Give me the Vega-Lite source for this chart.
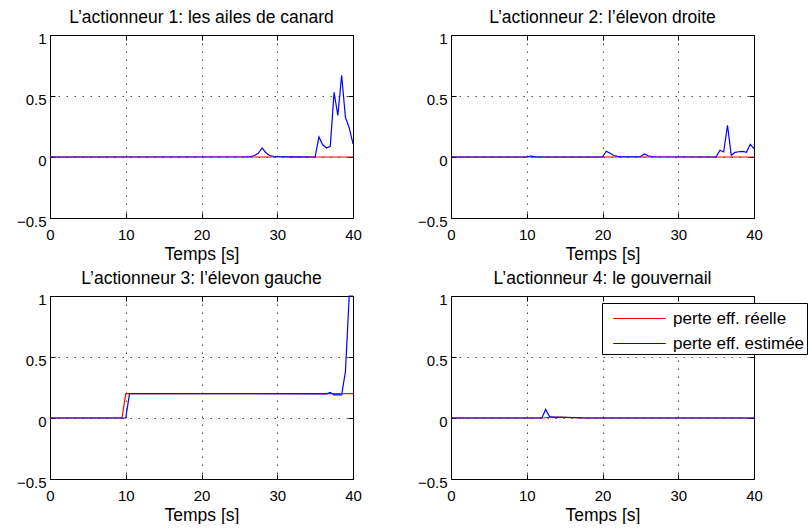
{
  "$schema": "https://vega.github.io/schema/vega-lite/v6.json",
  "background": "white",
  "padding": {"left": 15, "top": 8, "right": 0, "bottom": 0},
  "config": {
    "font": "Liberation Sans",
    "view": {"stroke": "#000", "strokeWidth": 1},
    "axis": {
      "domain": false,
      "grid": true,
      "gridColor": "#000",
      "gridDash": [1.5, 6.5],
      "gridOpacity": 0.7,
      "gridWidth": 1,
      "tickColor": "#000",
      "tickSize": -5,
      "labelFont": "Liberation Sans",
      "labelFontSize": 15,
      "labelColor": "#000",
      "titleFont": "Liberation Sans",
      "titleFontSize": 17.5,
      "titleFontWeight": "normal",
      "titleColor": "#000"
    },
    "axisX": {"labelPadding": 14, "titleY": 41, "titleBaseline": "alphabetic", "labelFlush": false},
    "axisY": {"labelPadding": 9, "labelOffset": 3},
    "title": {"font": "Liberation Sans", "fontSize": 17.5, "fontWeight": "normal", "color": "#000", "baseline": "alphabetic", "offset": 5, "anchor": "middle"}
  },
  "datasets": {
    "p1r": [{"t": 0, "v": 0}, {"t": 40, "v": 0}],
    "p1e": [
      {"t": 0, "v": 0}, {"t": 26, "v": 0.002}, {"t": 26.5, "v": 0.004}, {"t": 27, "v": 0.012}, {"t": 27.5, "v": 0.03},
      {"t": 28, "v": 0.074}, {"t": 28.5, "v": 0.035}, {"t": 29, "v": 0.012}, {"t": 29.5, "v": 0.006}, {"t": 30, "v": 0.004},
      {"t": 31, "v": 0.002}, {"t": 32, "v": 0.001}, {"t": 35, "v": 0}, {"t": 35.5, "v": 0.164}, {"t": 36, "v": 0.1},
      {"t": 36.5, "v": 0.074}, {"t": 37, "v": 0.088}, {"t": 37.5, "v": 0.53}, {"t": 38, "v": 0.34}, {"t": 38.5, "v": 0.67},
      {"t": 39, "v": 0.325}, {"t": 39.5, "v": 0.24}, {"t": 40, "v": 0.107}
    ],
    "p2r": [{"t": 0, "v": 0}, {"t": 40, "v": 0}],
    "p2e": [
      {"t": 0, "v": 0}, {"t": 10, "v": 0}, {"t": 10.5, "v": 0.008}, {"t": 11, "v": 0.003}, {"t": 11.5, "v": 0},
      {"t": 20, "v": 0}, {"t": 20.5, "v": 0.047}, {"t": 21, "v": 0.03}, {"t": 21.5, "v": 0.012}, {"t": 22, "v": 0.005},
      {"t": 22.5, "v": 0.002}, {"t": 25, "v": 0.002}, {"t": 25.5, "v": 0.025}, {"t": 26, "v": 0.01}, {"t": 26.5, "v": 0.004},
      {"t": 27, "v": 0.002}, {"t": 35, "v": 0}, {"t": 35.5, "v": 0.055}, {"t": 36, "v": 0.041}, {"t": 36.5, "v": 0.26},
      {"t": 37, "v": 0.014}, {"t": 37.5, "v": 0.038}, {"t": 38, "v": 0.043}, {"t": 38.5, "v": 0.046}, {"t": 39, "v": 0.038},
      {"t": 39.5, "v": 0.104}, {"t": 40, "v": 0.068}
    ],
    "p3r": [{"t": 0, "v": 0}, {"t": 9.5, "v": 0}, {"t": 10, "v": 0.2}, {"t": 40, "v": 0.2}],
    "p3e": [
      {"t": 0, "v": 0}, {"t": 10, "v": 0}, {"t": 10.5, "v": 0.2}, {"t": 36.5, "v": 0.198}, {"t": 37, "v": 0.21},
      {"t": 37.5, "v": 0.19}, {"t": 38.5, "v": 0.19}, {"t": 39, "v": 0.38}, {"t": 39.5, "v": 1.0}, {"t": 40, "v": 1.0}
    ],
    "p4r": [
      {"s": "perte eff. réelle", "t": 0, "v": 0}, {"s": "perte eff. réelle", "t": 12, "v": 0}, {"s": "perte eff. réelle", "t": 12.5, "v": 0.002},
      {"s": "perte eff. réelle", "t": 13, "v": 0.005}, {"s": "perte eff. réelle", "t": 14, "v": 0.006}, {"s": "perte eff. réelle", "t": 15, "v": 0.005},
      {"s": "perte eff. réelle", "t": 16, "v": 0.003}, {"s": "perte eff. réelle", "t": 17, "v": 0.001}, {"s": "perte eff. réelle", "t": 18, "v": 0},
      {"s": "perte eff. réelle", "t": 40, "v": 0}
    ],
    "p4e": [
      {"s": "perte eff. estimée", "t": 0, "v": 0}, {"s": "perte eff. estimée", "t": 12, "v": 0}, {"s": "perte eff. estimée", "t": 12.5, "v": 0.07},
      {"s": "perte eff. estimée", "t": 13, "v": 0.012}, {"s": "perte eff. estimée", "t": 13.5, "v": 0.007}, {"s": "perte eff. estimée", "t": 14, "v": 0.007},
      {"s": "perte eff. estimée", "t": 15, "v": 0.006}, {"s": "perte eff. estimée", "t": 16, "v": 0.004}, {"s": "perte eff. estimée", "t": 17, "v": 0.002},
      {"s": "perte eff. estimée", "t": 18, "v": 0}, {"s": "perte eff. estimée", "t": 40, "v": 0}
    ]
  },
  "concat": [
    {
      "width": 303, "height": 183,
      "title": "L’actionneur 1: les ailes de canard",
      "layer": [
        {"data": {"name": "p1r"}, "mark": {"type": "line", "color": "#ff0000", "strokeWidth": 1.2},
         "encoding": {
           "x": {"field": "t", "type": "quantitative", "scale": {"domain": [0, 40], "nice": false}, "axis": {"values": [0, 10, 20, 30, 40], "title": "Temps [s]"}},
           "y": {"field": "v", "type": "quantitative", "scale": {"domain": [-0.5, 1], "nice": false, "zero": false}, "axis": {"values": [-0.5, 0, 0.5, 1], "title": null, "format": "~g"}}}},
        {"data": {"name": "p1e"}, "mark": {"type": "line", "color": "#0000ff", "strokeWidth": 1.2},
         "encoding": {
           "x": {"field": "t", "type": "quantitative", "axis": null},
           "y": {"field": "v", "type": "quantitative", "axis": null}}},
        {"data": {"name": "p1r"}, "mark": {"type": "line", "opacity": 0},
         "encoding": {
           "x": {"field": "t", "type": "quantitative", "axis": {"orient": "top", "values": [0, 10, 20, 30, 40], "labels": false, "title": null, "grid": false}},
           "y": {"field": "v", "type": "quantitative", "axis": {"orient": "right", "values": [-0.5, 0, 0.5, 1], "labels": false, "title": null, "grid": false}}}}
      ],
      "resolve": {"axis": {"x": "independent", "y": "independent"}}
    },
    {
      "width": 303, "height": 183,
      "title": "L’actionneur 2: l’élevon droite",
      "layer": [
        {"data": {"name": "p2r"}, "mark": {"type": "line", "color": "#ff0000", "strokeWidth": 1.2},
         "encoding": {
           "x": {"field": "t", "type": "quantitative", "scale": {"domain": [0, 40], "nice": false}, "axis": {"values": [0, 10, 20, 30, 40], "title": "Temps [s]"}},
           "y": {"field": "v", "type": "quantitative", "scale": {"domain": [-0.5, 1], "nice": false, "zero": false}, "axis": {"values": [-0.5, 0, 0.5, 1], "title": null, "format": "~g"}}}},
        {"data": {"name": "p2e"}, "mark": {"type": "line", "color": "#0000ff", "strokeWidth": 1.2},
         "encoding": {
           "x": {"field": "t", "type": "quantitative", "axis": null},
           "y": {"field": "v", "type": "quantitative", "axis": null}}},
        {"data": {"name": "p2r"}, "mark": {"type": "line", "opacity": 0},
         "encoding": {
           "x": {"field": "t", "type": "quantitative", "axis": {"orient": "top", "values": [0, 10, 20, 30, 40], "labels": false, "title": null, "grid": false}},
           "y": {"field": "v", "type": "quantitative", "axis": {"orient": "right", "values": [-0.5, 0, 0.5, 1], "labels": false, "title": null, "grid": false}}}}
      ],
      "resolve": {"axis": {"x": "independent", "y": "independent"}}
    },
    {
      "width": 303, "height": 183,
      "title": "L’actionneur 3: l’élevon gauche",
      "layer": [
        {"data": {"name": "p3r"}, "mark": {"type": "line", "color": "#ff0000", "strokeWidth": 1.2},
         "encoding": {
           "x": {"field": "t", "type": "quantitative", "scale": {"domain": [0, 40], "nice": false}, "axis": {"values": [0, 10, 20, 30, 40], "title": "Temps [s]"}},
           "y": {"field": "v", "type": "quantitative", "scale": {"domain": [-0.5, 1], "nice": false, "zero": false}, "axis": {"values": [-0.5, 0, 0.5, 1], "title": null, "format": "~g"}}}},
        {"data": {"name": "p3e"}, "mark": {"type": "line", "color": "#0000ff", "strokeWidth": 1.2},
         "encoding": {
           "x": {"field": "t", "type": "quantitative", "axis": null},
           "y": {"field": "v", "type": "quantitative", "axis": null}}},
        {"data": {"name": "p3r"}, "mark": {"type": "line", "opacity": 0},
         "encoding": {
           "x": {"field": "t", "type": "quantitative", "axis": {"orient": "top", "values": [0, 10, 20, 30, 40], "labels": false, "title": null, "grid": false}},
           "y": {"field": "v", "type": "quantitative", "axis": {"orient": "right", "values": [-0.5, 0, 0.5, 1], "labels": false, "title": null, "grid": false}}}}
      ],
      "resolve": {"axis": {"x": "independent", "y": "independent"}}
    },
    {
      "width": 303, "height": 183,
      "title": "L’actionneur 4: le gouvernail",
      "layer": [
        {"data": {"name": "p4r"}, "mark": {"type": "line", "strokeWidth": 1.2},
         "encoding": {
           "x": {"field": "t", "type": "quantitative", "scale": {"domain": [0, 40], "nice": false}, "axis": {"values": [0, 10, 20, 30, 40], "title": "Temps [s]"}},
           "y": {"field": "v", "type": "quantitative", "scale": {"domain": [-0.5, 1], "nice": false, "zero": false}, "axis": {"values": [-0.5, 0, 0.5, 1], "title": null, "format": "~g"}},
           "color": {"field": "s", "type": "nominal",
             "scale": {"domain": ["perte eff. réelle", "perte eff. estimée"], "range": ["#ff0000", "#0000ff"]},
             "legend": {"orient": "none", "legendX": 151, "legendY": 7, "title": null, "strokeColor": "#000", "fillColor": "#fff",
               "padding": 2, "symbolType": "M-2.1,0H2.1", "symbolSize": 625, "symbolStrokeWidth": 1.2, "symbolOffset": 22,
               "labelFont": "Liberation Sans", "labelFontSize": 17, "labelColor": "#000", "labelOffset": 20, "rowPadding": 3, "labelLimit": 300,
               "encode": {"symbols": {"update": {"stroke": {"signal": "datum.value === 'perte eff. réelle' ? '#ff0000' : '#0000ff'"}, "strokeOpacity": {"value": 1}, "opacity": {"value": 1}}}}}}}},
        {"data": {"name": "p4e"}, "mark": {"type": "line", "strokeWidth": 1.2},
         "encoding": {
           "x": {"field": "t", "type": "quantitative", "axis": null},
           "y": {"field": "v", "type": "quantitative", "axis": null},
           "color": {"field": "s", "type": "nominal"}}},
        {"data": {"name": "p4r"}, "mark": {"type": "line", "opacity": 0},
         "encoding": {
           "x": {"field": "t", "type": "quantitative", "axis": {"orient": "top", "values": [0, 10, 20, 30, 40], "labels": false, "title": null, "grid": false}},
           "y": {"field": "v", "type": "quantitative", "axis": {"orient": "right", "values": [-0.5, 0, 0.5, 1], "labels": false, "title": null, "grid": false}}}}
      ],
      "resolve": {"axis": {"x": "independent", "y": "independent"}}
    }
  ],
  "columns": 2,
  "spacing": {"row": 78, "column": 98},
  "bounds": "flush",
  "resolve": {"scale": {"color": "independent"}, "legend": {"color": "independent"}}
}
